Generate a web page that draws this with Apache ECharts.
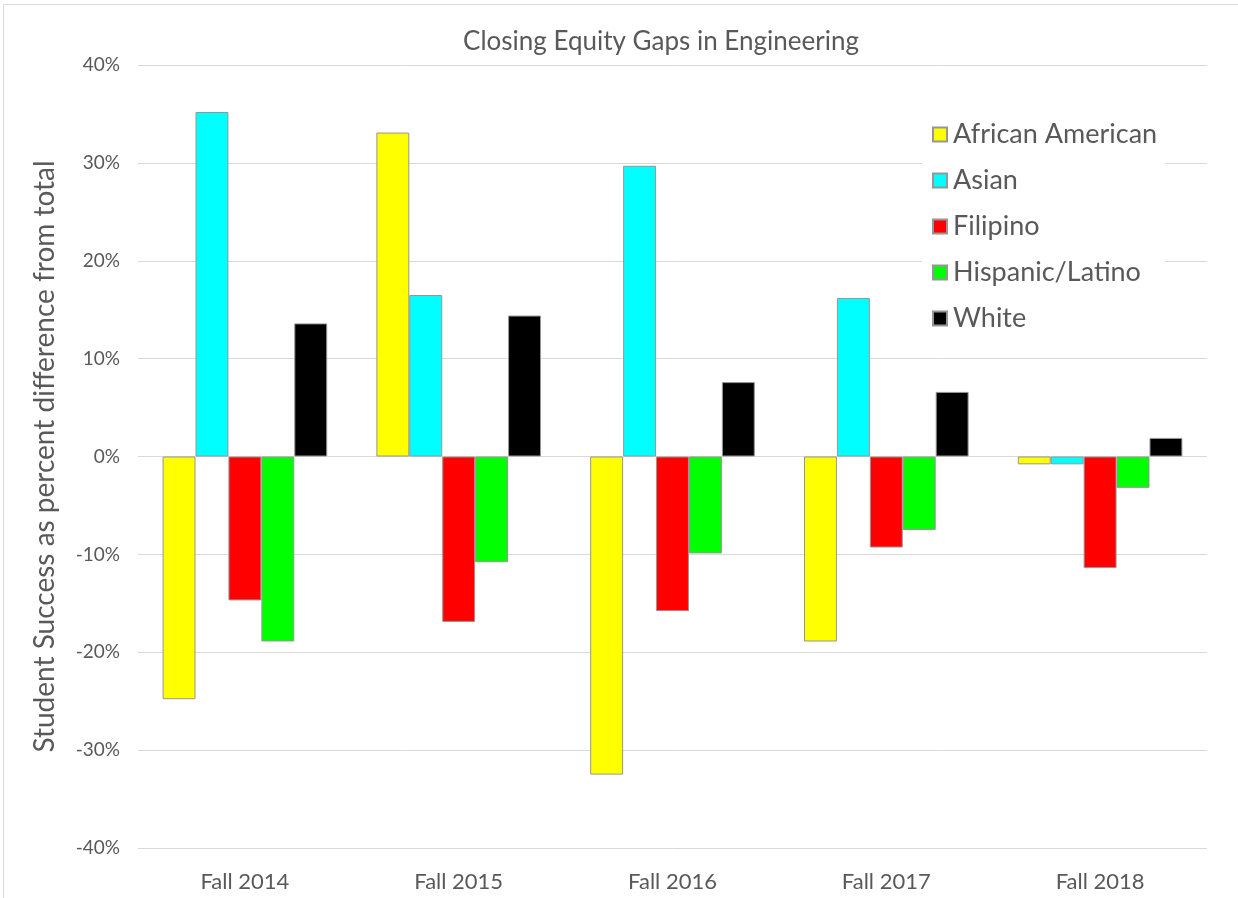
<!DOCTYPE html>
<html>
<head>
<meta charset="utf-8">
<script src="https://cdn.jsdelivr.net/npm/echarts@6/dist/echarts.min.js"></script>
<style>
  html, body { margin: 0; padding: 0; background: #fff; }
  #frame {
    position: absolute; left: 3px; top: 4px; width: 1240px; height: 900px;
    border: 1px solid #d9d9d9; box-sizing: border-box;
  }
  #chart { position: absolute; left: 0; top: 0; width: 1238px; height: 898px; }
</style>
</head>
<body>
<div id="frame"></div>
<div id="chart"></div>
<script>
// data (percent difference from total)
const categories = ["Fall 2014", "Fall 2015", "Fall 2016", "Fall 2017", "Fall 2018"];
const africanAmerican = [-24.8, 33.1, -32.5, -18.9, -0.8];
const asian = [35.2, 16.5, 29.7, 16.2, -0.8];
const filipino = [-14.7, -16.9, -15.8, -9.3, -11.4];
const hispanicLatino = [-18.9, -10.8, -9.9, -7.5, -3.2];
const white = [13.6, 14.4, 7.6, 6.6, 1.9];

const seriesDefs = [
  { name: "African American", color: "#ffff00", data: africanAmerican },
  { name: "Asian", color: "#00ffff", data: asian },
  { name: "Filipino", color: "#ff0000", data: filipino },
  { name: "Hispanic/Latino", color: "#00ff00", data: hispanicLatino },
  { name: "White", color: "#000000", data: white },
];

const fontFamily = "Lato, 'Open Sans', sans-serif";
const textColor = "#595959";

const chart = echarts.init(document.getElementById("chart"));
const option = {
  backgroundColor: "transparent",
  textStyle: { fontFamily: fontFamily },
  title: {
    text: "Closing Equity Gaps in Engineering",
    left: 656,
    textAlign: "center",
    top: 24,
    textStyle: { fontSize: 26, fontWeight: "normal", color: textColor, fontFamily: fontFamily },
  },
  grid: { left: 138, right: 31, top: 65, bottom: 50 },
  legend: {
    orient: "vertical",
    left: 922,
    top: 113,
    backgroundColor: "#ffffff",
    padding: [8, 8, 8, 10],
    itemWidth: 14,
    itemHeight: 14,
    itemGap: 19,
    icon: "rect",
    textStyle: { fontSize: 27, color: textColor, fontFamily: fontFamily, padding: [0, 0, 0, 1] },
    data: seriesDefs.map(s => s.name),
  },
  xAxis: {
    type: "category",
    data: categories,
    axisLine: { show: false, onZero: false },
    axisTick: { show: false },
    axisLabel: { fontSize: 22, color: textColor, margin: 23 },
  },
  yAxis: {
    type: "value",
    min: -40,
    max: 40,
    interval: 10,
    name: "Student Success as percent difference from total",
    nameLocation: "middle",
    nameGap: 79,
    nameTextStyle: { fontSize: 28, color: textColor },
    axisLabel: { formatter: "{value}%", fontSize: 19, color: textColor, margin: 18 },
    axisLine: { show: false },
    axisTick: { show: false },
    splitLine: { lineStyle: { color: "#d9d9d9", width: 1 } },
  },
  series: seriesDefs.map(s => ({
    name: s.name,
    type: "bar",
    data: s.data,
    barGap: "0%",
    barCategoryGap: "23%",
    itemStyle: { color: s.color, borderColor: "#969696", borderWidth: 1 },
    emphasis: { disabled: true },
  })),
};
chart.setOption(option);
</script>
</body>
</html>
